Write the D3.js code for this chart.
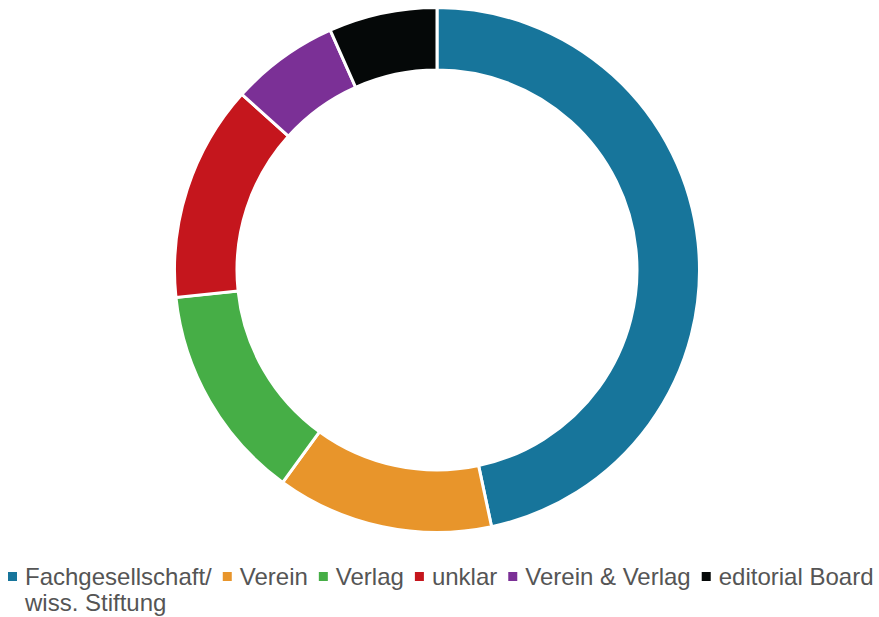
<!DOCTYPE html>
<html>
<head>
<meta charset="utf-8">
<script src="https://cdn.jsdelivr.net/npm/d3@7"></script>
<style>
  body { margin: 0; background: #fff; }
  svg { display: block; }
</style>
</head>
<body>
<div id="chart"></div>
<script>
// data
const categories = ["Fachgesellschaft/\nwiss. Stiftung", "Verein", "Verlag", "unklar", "Verein & Verlag", "editorial Board"];
const values = [7, 2, 2, 2, 1, 1];
const colors = ["#17759b", "#e8952b", "#46ae46", "#c5161d", "#7b3096", "#050808"];

const W = 879, H = 617;
const cx = 437, cy = 270;
const outerR = 262.5, innerR = 200;

const svg = d3.select("#chart").append("svg")
  .attr("width", W)
  .attr("height", H);

const pie = d3.pie().sort(null).value(d => d.value);
const arc = d3.arc().innerRadius(innerR).outerRadius(outerR);

const rows = categories.map((c, i) => ({ label: c, value: values[i], color: colors[i] }));

svg.append("g")
  .attr("transform", `translate(${cx},${cy})`)
  .selectAll("path")
  .data(pie(rows))
  .join("path")
  .attr("d", arc)
  .attr("fill", d => d.data.color)
  .attr("stroke", "#fff")
  .attr("stroke-width", 3);

// legend
const legend = svg.append("g")
  .attr("font-family", "Liberation Sans, Arial, sans-serif")
  .attr("font-size", "24px")
  .attr("fill", "#555");

let x = 8;
const baseY = 585;
rows.forEach(d => {
  legend.append("rect")
    .attr("x", x)
    .attr("y", baseY - 13)
    .attr("width", 9)
    .attr("height", 9)
    .attr("fill", d.color);
  const lines = d.label.split("\n");
  const t = legend.append("text")
    .attr("x", x + 17)
    .attr("y", baseY);
  lines.forEach((ln, j) => {
    t.append("tspan")
      .attr("x", x + 17)
      .attr("dy", j === 0 ? 0 : 26)
      .text(ln);
  });
  const w = t.select("tspan").node().getComputedTextLength();
  x = x + 17 + w + 11;
});
</script>
</body>
</html>
